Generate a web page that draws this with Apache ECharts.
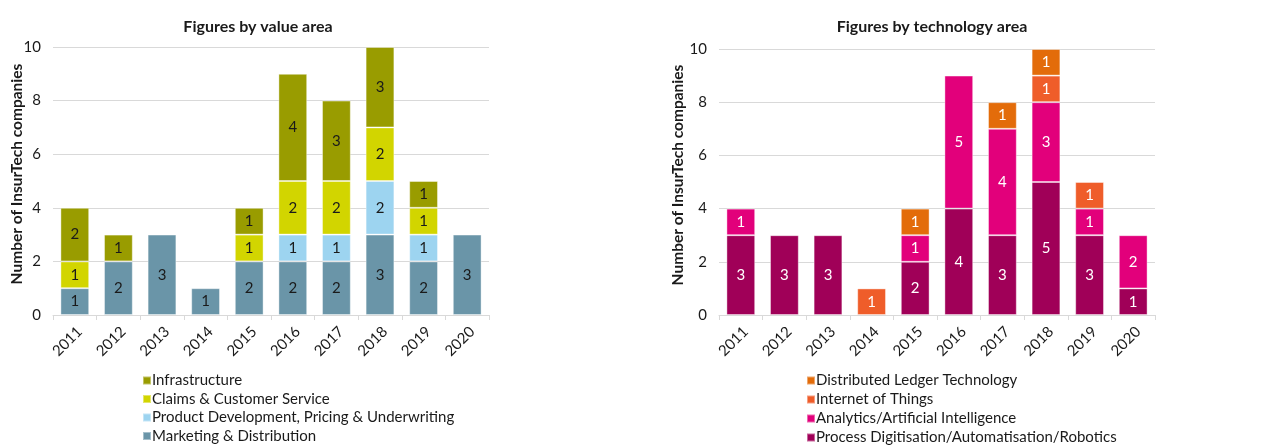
<!DOCTYPE html>
<html><head><meta charset="utf-8">
<script src="https://cdn.jsdelivr.net/npm/echarts@6/dist/echarts.min.js"></script>
<style>html,body{margin:0;padding:0;background:#fff}#c{width:1266px;height:446px}</style>
</head><body><div id="c"></div>
<script>
const years = ['2011','2012','2013','2014','2015','2016','2017','2018','2019','2020'];
// Figures by value area
const marketing = [1,2,3,1,2,2,2,3,2,3];
const productDev = [0,0,0,0,0,1,1,2,1,0];
const claims = [1,0,0,0,1,2,2,2,1,0];
const infrastructure = [2,1,0,0,1,4,3,3,1,0];
// Figures by technology area
const processDigit = [3,3,3,0,2,4,3,5,3,1];
const analytics = [1,0,0,0,1,5,4,3,1,2];
const iot = [0,0,0,1,0,0,0,1,1,0];
const dlt = [0,0,0,0,1,0,1,1,0,0];
const yTicks = [0,2,4,6,8,10];
const legendLeft = ['Infrastructure','Claims & Customer Service','Product Development, Pricing & Underwriting','Marketing & Distribution'];
const legendRight = ['Distributed Ledger Technology','Internet of Things','Analytics/Artificial Intelligence','Process Digitisation/Automatisation/Robotics'];

const FONT = 'Lato';
const TXT = '#1a1a1a';
const nz = a => a.map(v => v === 0 ? null : v);

function bar(name, data, color, gi, labelColor) {
  return {
    name, type: 'bar', stack: 's' + gi, xAxisIndex: gi, yAxisIndex: gi,
    data: nz(data), barWidth: '66%',
    itemStyle: { color, borderColor: 'rgba(255,255,255,0.4)', borderWidth: 1 },
    label: { show: true, position: 'inside', color: labelColor, fontSize: 15, fontFamily: FONT },
    emphasis: { disabled: true }
  };
}

function xAx(gi) {
  return {
    type: 'category', gridIndex: gi, data: years,
    axisLine: { lineStyle: { color: '#d9d9d9', width: 1 } },
    axisTick: { show: true, length: 5, lineStyle: { color: '#d9d9d9' } },
    axisLabel: { rotate: 45, fontSize: 15, color: TXT, fontFamily: FONT, margin: 19, padding: [0, -7, 0, 0] }
  };
}
function yAx(gi, gap) {
  return {
    type: 'value', gridIndex: gi, min: yTicks[0], max: yTicks[yTicks.length-1], interval: yTicks[1]-yTicks[0],
    name: 'Number of InsurTech companies', nameLocation: 'middle', nameGap: gap, nameMoveOverlap: false,
    nameTextStyle: { fontSize: 15.5, fontWeight: 'bold', color: TXT, fontFamily: FONT, padding: [0, 0, 0, 14] },
    axisLine: { show: false }, axisTick: { show: false },
    splitLine: { lineStyle: { color: '#d9d9d9', width: 1 } },
    axisLabel: { fontSize: 15, color: TXT, fontFamily: FONT, margin: 12 }
  };
}
function legends(names, left, tops) {
  return names.map((n, i) => ({
    orient: 'vertical', left: left, top: tops[i], itemWidth: 8, itemHeight: 8, itemGap: 0, icon: 'rect', padding: 0,
    data: [n], textStyle: { fontSize: 15, color: TXT, fontFamily: FONT, padding: [0,0,0,-4] }
  }));
}

const chart = echarts.init(document.getElementById('c'));
chart.setOption({
  animation: false,
  textStyle: { fontFamily: FONT },
  title: [
    { text: 'Figures by value area', left: 253, top: 14, textAlign: 'center',
      textStyle: { fontSize: 16, fontWeight: 'bold', color: TXT, fontFamily: FONT } },
    { text: 'Figures by technology area', left: 927, top: 14, textAlign: 'center',
      textStyle: { fontSize: 16, fontWeight: 'bold', color: TXT, fontFamily: FONT } }
  ],
  grid: [
    { left: 53, top: 47, width: 436, height: 268, containLabel: false },
    { left: 719, top: 49, width: 436, height: 266, containLabel: false }
  ],
  legend: legends(legendLeft, 142, [373, 391.5, 410, 428.5]).concat(legends(legendRight, 806, [373, 392, 411, 430])),
  xAxis: [xAx(0), xAx(1)],
  yAxis: [yAx(0, 28), yAx(1, 33)],
  series: [
    bar('Marketing & Distribution', marketing, '#6A95A8', 0, TXT),
    bar('Product Development, Pricing & Underwriting', productDev, '#9DD4F0', 0, TXT),
    bar('Claims & Customer Service', claims, '#D2D500', 0, TXT),
    bar('Infrastructure', infrastructure, '#999C00', 0, TXT),
    bar('Process Digitisation/Automatisation/Robotics', processDigit, '#A00058', 1, '#ffffff'),
    bar('Analytics/Artificial Intelligence', analytics, '#E2007B', 1, '#ffffff'),
    bar('Internet of Things', iot, '#EF5D2A', 1, '#ffffff'),
    bar('Distributed Ledger Technology', dlt, '#E36C0A', 1, '#ffffff')
  ]
});
</script></body></html>
